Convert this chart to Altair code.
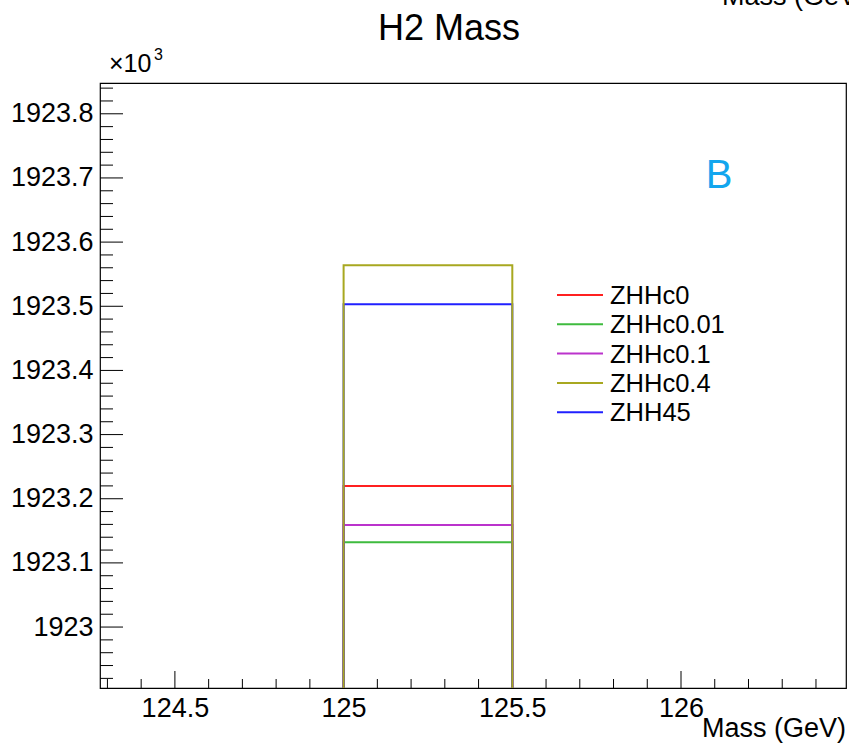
import altair as alt
import pandas as pd
import numpy as np

# ---- data (bin contents in units of 10^3) ----
series = ["ZHHc0", "ZHHc0.01", "ZHHc0.1", "ZHHc0.4", "ZHH45"]
counts_k = [1923.220, 1923.132, 1923.159, 1923.564, 1923.503]
colors = ["#ff2020", "#3fbb3f", "#bb33cc", "#a8a820", "#2020ff"]
bin_low = 125.0
bin_high = 125.5
empty_bin = 0.0

x_major = [124.5, 125.0, 125.5, 126.0]
x_minor = [round(v, 1) for v in np.arange(124.3, 126.45, 0.1) if round(v, 1) not in x_major]
y_major = [1923.0, 1923.1, 1923.2, 1923.3, 1923.4, 1923.5, 1923.6, 1923.7, 1923.8]
y_minor = [round(v, 2) for v in np.arange(1922.92, 1923.845, 0.02)
           if round(v, 2) not in [round(m, 2) for m in y_major]]
x_domain = [124.278, 126.489]
y_domain = [1922.905, 1923.848]

title_text = "H2 Mass"
x_title = "Mass (GeV)"
exp_text = "×10"
exp_power = "3"
panel_tag = "B"

FONT = "Liberation Sans"
W, H = 746, 605

rows = []
for s, c in zip(series, counts_k):
    rows += [
        {"series": s, "x": bin_low, "y": empty_bin, "step": 0},
        {"series": s, "x": bin_low, "y": c, "step": 1},
        {"series": s, "x": bin_high, "y": c, "step": 2},
        {"series": s, "x": bin_high, "y": empty_bin, "step": 3},
    ]
hist = pd.DataFrame(rows)

xscale = alt.Scale(domain=x_domain, nice=False, zero=False)
yscale = alt.Scale(domain=y_domain, nice=False, zero=False)
xaxis = alt.Axis(values=x_major, format=".1~f", ticks=False, domain=False, grid=False,
                 labelFont=FONT, labelFontSize=27, labelColor="black", labelPadding=7,
                 labelFlush=False, labelOverlap=False, title=None)
yaxis = alt.Axis(values=y_major, format=".1~f", ticks=False, domain=False, grid=False,
                 labelFont=FONT, labelFontSize=27, labelColor="black", labelPadding=7,
                 labelOverlap=False, title=None)
cscale = alt.Scale(domain=series, range=colors)

def hist_layer(data):
    return alt.Chart(data).mark_line(clip=True, strokeWidth=2).encode(
        x=alt.X("x:Q", scale=xscale, axis=xaxis),
        y=alt.Y("y:Q", scale=yscale, axis=yaxis),
        color=alt.Color("series:N", scale=cscale, legend=None),
        detail="series:N",
        order=alt.Order("step:Q"),
    )

h_other = hist_layer(hist[hist["series"] != "ZHHc0.4"])
h_olive = hist_layer(hist[hist["series"] == "ZHHc0.4"])

def yticks(vals, length):
    return alt.Chart(pd.DataFrame({"v": vals})).mark_rule(color="black", strokeWidth=1).encode(
        y=alt.Y("v:Q", scale=yscale, axis=yaxis), x=alt.value(0), x2=alt.value(length))

def xticks(vals, length):
    return alt.Chart(pd.DataFrame({"v": vals})).mark_rule(color="black", strokeWidth=1).encode(
        x=alt.X("v:Q", scale=xscale, axis=xaxis), y=alt.value(H), y2=alt.value(H - length))

def text(t, x, y, size, align="left", color="black", baseline="alphabetic"):
    return alt.Chart(pd.DataFrame({"t": [t]})).mark_text(
        font=FONT, fontSize=size, align=align, baseline=baseline, color=color
    ).encode(text="t:N", x=alt.value(x), y=alt.value(y))

layers = [
    yticks(y_major, 23), yticks(y_minor, 13),
    xticks(x_major, 17), xticks(x_minor, 9),
    h_other, h_olive,
    text(title_text, 349, -43, 36, align="center"),
    text(x_title, 622, -78, 27),
    text(x_title, 746, 654, 27, align="right"),
    text(exp_text, 9, -11, 25),
    text(exp_power, 54, -23, 16),
    text(panel_tag, 619, 105, 40, align="center", color="#12a6ee"),
]

for i, (s, col) in enumerate(zip(series, colors)):
    yy = 212 + i * 29.3
    layers.append(
        alt.Chart(pd.DataFrame({"s": [s]})).mark_rule(color=col, strokeWidth=2).encode(
            x=alt.value(457), x2=alt.value(503), y=alt.value(yy))
    )
    layers.append(text(s, 510, yy + 1, 25.5, baseline="middle"))

chart = alt.layer(*layers).properties(
    width=W, height=H,
    autosize=alt.AutoSizeParams(type="none"),
    padding={"left": 100, "top": 83, "right": 3, "bottom": 59},
    background="white",
).configure_view(stroke="black", strokeWidth=1.2)

chart.save("out.html", embed_options={"renderer": "svg", "actions": False})
